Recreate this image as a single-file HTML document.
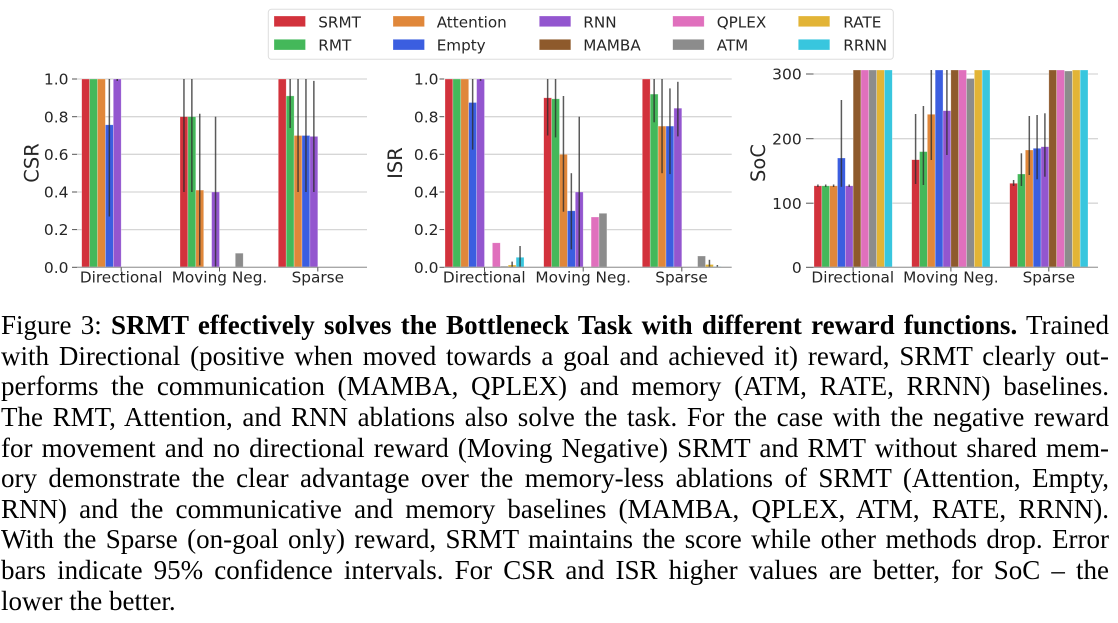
<!DOCTYPE html>
<html>
<head>
<meta charset="utf-8">
<style>
  html, body { margin:0; padding:0; background:#ffffff; }
  body { width:1118px; height:623px; position:relative; overflow:hidden; }
  svg { position:absolute; left:0; top:0; }
  .cap { position:absolute; left:1px; top:310.3px; width:1108px;
         font-family:"Liberation Serif", "Times New Roman", serif; font-size:27px;
         line-height:30.6px; color:#000; }
  .cap div { text-align:justify; text-align-last:justify; height:30.6px; white-space:nowrap; }
  .cap div.last { text-align-last:left; }
  b { font-weight:bold; }
</style>
</head>
<body>
<svg width="1118" height="300" viewBox="0 0 1118 300" xmlns="http://www.w3.org/2000/svg" font-family="DejaVu Sans, Liberation Sans, sans-serif">
  <rect x="0" y="0" width="1118" height="300" fill="#ffffff"/>

  <!-- ============ CSR panel ============ -->
  <g stroke="#d6d6d6" stroke-width="1.3">
    <line x1="77" y1="229.6" x2="367" y2="229.6"/>
    <line x1="77" y1="192.0" x2="367" y2="192.0"/>
    <line x1="77" y1="154.3" x2="367" y2="154.3"/>
    <line x1="77" y1="116.7" x2="367" y2="116.7"/>
    <line x1="77" y1="79.0" x2="367" y2="79.0"/>
  </g>
  <g stroke="#ffffff" stroke-opacity="0.45" stroke-width="0.6">
    <rect x="81.7" y="79" width="7.9" height="188.3" fill="#d2323c"/>
    <rect x="89.6" y="79" width="7.9" height="188.3" fill="#44b85a"/>
    <rect x="97.5" y="79" width="7.9" height="188.3" fill="#e0873a"/>
    <rect x="105.4" y="124.8" width="7.9" height="142.5" fill="#3b5ee0"/>
    <rect x="113.3" y="79" width="7.9" height="188.3" fill="#9356cf"/>

    <rect x="180" y="116.7" width="7.9" height="150.6" fill="#d2323c"/>
    <rect x="187.9" y="116.7" width="7.9" height="150.6" fill="#44b85a"/>
    <rect x="195.8" y="190.1" width="7.9" height="77.2" fill="#e0873a"/>
    <rect x="211.6" y="192" width="7.9" height="75.3" fill="#9356cf"/>
    <rect x="235.3" y="253.2" width="7.9" height="14.1" fill="#8c8c8c"/>

    <rect x="278.3" y="79" width="7.9" height="188.3" fill="#d2323c"/>
    <rect x="286.2" y="95.9" width="7.9" height="171.4" fill="#44b85a"/>
    <rect x="294.1" y="135.5" width="7.9" height="131.8" fill="#e0873a"/>
    <rect x="302" y="135.5" width="7.9" height="131.8" fill="#3b5ee0"/>
    <rect x="309.9" y="136.4" width="7.9" height="130.9" fill="#9356cf"/>
  </g>
  <g stroke="rgba(45,45,45,0.78)" stroke-width="1.5">
    <line x1="109.35" y1="79" x2="109.35" y2="216.5"/>
    <line x1="117.25" y1="79" x2="117.25" y2="81"/>
    <line x1="183.95" y1="79" x2="183.95" y2="192"/>
    <line x1="191.85" y1="79" x2="191.85" y2="192"/>
    <line x1="199.75" y1="113.8" x2="199.75" y2="265.4"/>
    <line x1="215.55" y1="116.7" x2="215.55" y2="267.3"/>
    <line x1="290.15" y1="79" x2="290.15" y2="128"/>
    <line x1="298.05" y1="79" x2="298.05" y2="192"/>
    <line x1="305.95" y1="79" x2="305.95" y2="192"/>
    <line x1="313.85" y1="80.9" x2="313.85" y2="192"/>
  </g>
  <line x1="77" y1="267.3" x2="367" y2="267.3" stroke="#a8a8a8" stroke-width="1.3"/>
  <g stroke="#555" stroke-width="1">
    <line x1="72" y1="79" x2="77" y2="79"/>
    <line x1="72" y1="116.7" x2="77" y2="116.7"/>
    <line x1="72" y1="154.3" x2="77" y2="154.3"/>
    <line x1="72" y1="192" x2="77" y2="192"/>
    <line x1="72" y1="229.6" x2="77" y2="229.6"/>
    <line x1="72" y1="267.3" x2="77" y2="267.3"/>
    <line x1="121.2" y1="267.3" x2="121.2" y2="271.5"/>
    <line x1="219.5" y1="267.3" x2="219.5" y2="271.5"/>
    <line x1="317.8" y1="267.3" x2="317.8" y2="271.5"/>
  </g>
  <g fill="#262626" font-size="15.5" text-anchor="end">
    <text x="68.5" y="84.6">1.0</text>
    <text x="68.5" y="122.3">0.8</text>
    <text x="68.5" y="159.9">0.6</text>
    <text x="68.5" y="197.6">0.4</text>
    <text x="68.5" y="235.2">0.2</text>
    <text x="68.5" y="272.9">0.0</text>
  </g>
  <g fill="#262626" font-size="15.3" text-anchor="middle">
    <text x="121.2" y="282.5">Directional</text>
    <text x="219.5" y="282.5">Moving Neg.</text>
    <text x="317.8" y="282.5">Sparse</text>
  </g>
  <text transform="translate(31.7,163) rotate(-90)" y="6.9" text-anchor="middle" font-size="19.5" fill="#262626">CSR</text>

  <!-- ============ ISR panel ============ -->
  <g stroke="#d6d6d6" stroke-width="1.3">
    <line x1="444" y1="229.6" x2="731.7" y2="229.6"/>
    <line x1="444" y1="192.0" x2="731.7" y2="192.0"/>
    <line x1="444" y1="154.3" x2="731.7" y2="154.3"/>
    <line x1="444" y1="116.7" x2="731.7" y2="116.7"/>
    <line x1="444" y1="79.0" x2="731.7" y2="79.0"/>
  </g>
  <g stroke="#ffffff" stroke-opacity="0.45" stroke-width="0.6">
    <rect x="445" y="79" width="7.9" height="188.3" fill="#d2323c"/>
    <rect x="452.9" y="79" width="7.9" height="188.3" fill="#44b85a"/>
    <rect x="460.8" y="79" width="7.9" height="188.3" fill="#e0873a"/>
    <rect x="468.7" y="102.5" width="7.9" height="164.8" fill="#3b5ee0"/>
    <rect x="476.6" y="79" width="7.9" height="188.3" fill="#9356cf"/>
    <rect x="492.4" y="242.8" width="7.9" height="24.5" fill="#e070bd"/>
    <rect x="500.3" y="266.1" width="7.9" height="1.2" fill="#8c8c8c"/>
    <rect x="508.2" y="265" width="7.9" height="2.3" fill="#e2b436"/>
    <rect x="516.1" y="257.3" width="7.9" height="10" fill="#38c6de"/>

    <rect x="543.7" y="97.8" width="7.9" height="169.5" fill="#d2323c"/>
    <rect x="551.6" y="98.8" width="7.9" height="168.5" fill="#44b85a"/>
    <rect x="559.5" y="154.3" width="7.9" height="113" fill="#e0873a"/>
    <rect x="567.4" y="210.8" width="7.9" height="56.5" fill="#3b5ee0"/>
    <rect x="575.3" y="192" width="7.9" height="75.3" fill="#9356cf"/>
    <rect x="591.1" y="217" width="7.9" height="50.3" fill="#e070bd"/>
    <rect x="599" y="213.3" width="7.9" height="54" fill="#8c8c8c"/>

    <rect x="642.3" y="79" width="7.9" height="188.3" fill="#d2323c"/>
    <rect x="650.2" y="94.1" width="7.9" height="173.2" fill="#44b85a"/>
    <rect x="658.1" y="126.1" width="7.9" height="141.2" fill="#e0873a"/>
    <rect x="666" y="126.1" width="7.9" height="141.2" fill="#3b5ee0"/>
    <rect x="673.9" y="108.2" width="7.9" height="159.1" fill="#9356cf"/>
    <rect x="697.6" y="256" width="7.9" height="11.3" fill="#8c8c8c"/>
    <rect x="705.5" y="264.5" width="7.9" height="2.8" fill="#e2b436"/>
    <rect x="713.4" y="266.5" width="7.9" height="0.8" fill="#38c6de"/>
  </g>
  <g stroke="rgba(45,45,45,0.78)" stroke-width="1.5">
    <line x1="472.65" y1="79" x2="472.65" y2="149.6"/>
    <line x1="480.55" y1="79" x2="480.55" y2="80.9"/>
    <line x1="512.15" y1="261.6" x2="512.15" y2="267.3"/>
    <line x1="520.05" y1="246" x2="520.05" y2="267.3"/>
    <line x1="547.65" y1="79" x2="547.65" y2="135.5"/>
    <line x1="555.55" y1="79" x2="555.55" y2="137.4"/>
    <line x1="563.45" y1="96" x2="563.45" y2="211.7"/>
    <line x1="571.35" y1="173.2" x2="571.35" y2="249.4"/>
    <line x1="579.25" y1="116.7" x2="579.25" y2="267.3"/>
    <line x1="654.15" y1="79" x2="654.15" y2="122.3"/>
    <line x1="662.05" y1="79" x2="662.05" y2="173.2"/>
    <line x1="669.95" y1="88.4" x2="669.95" y2="174.1"/>
    <line x1="677.85" y1="81.8" x2="677.85" y2="136.4"/>
    <line x1="709.45" y1="259.8" x2="709.45" y2="267.3"/>
    <line x1="717.35" y1="265" x2="717.35" y2="267.3"/>
  </g>
  <line x1="444" y1="267.3" x2="731.7" y2="267.3" stroke="#a8a8a8" stroke-width="1.3"/>
  <g stroke="#555" stroke-width="1">
    <line x1="439.5" y1="79" x2="444" y2="79"/>
    <line x1="439.5" y1="116.7" x2="444" y2="116.7"/>
    <line x1="439.5" y1="154.3" x2="444" y2="154.3"/>
    <line x1="439.5" y1="192" x2="444" y2="192"/>
    <line x1="439.5" y1="229.6" x2="444" y2="229.6"/>
    <line x1="439.5" y1="267.3" x2="444" y2="267.3"/>
    <line x1="484.5" y1="267.3" x2="484.5" y2="271.5"/>
    <line x1="583.2" y1="267.3" x2="583.2" y2="271.5"/>
    <line x1="681.8" y1="267.3" x2="681.8" y2="271.5"/>
  </g>
  <g fill="#262626" font-size="15.5" text-anchor="end">
    <text x="438.5" y="84.6">1.0</text>
    <text x="438.5" y="122.3">0.8</text>
    <text x="438.5" y="159.9">0.6</text>
    <text x="438.5" y="197.6">0.4</text>
    <text x="438.5" y="235.2">0.2</text>
    <text x="438.5" y="272.9">0.0</text>
  </g>
  <g fill="#262626" font-size="15.3" text-anchor="middle">
    <text x="484.3" y="282.5">Directional</text>
    <text x="583.2" y="282.5">Moving Neg.</text>
    <text x="681.5" y="282.5">Sparse</text>
  </g>
  <text transform="translate(395,163) rotate(-90)" y="6.9" text-anchor="middle" font-size="19.5" fill="#262626">ISR</text>

  <!-- ============ SoC panel ============ -->
  <g stroke="#d6d6d6" stroke-width="1.3">
    <line x1="813.5" y1="74" x2="1098" y2="74"/>
    <line x1="813.5" y1="138.7" x2="1098" y2="138.7"/>
    <line x1="813.5" y1="203.2" x2="1098" y2="203.2"/>
  </g>
  <g stroke="#ffffff" stroke-opacity="0.45" stroke-width="0.6">
    <rect x="814" y="185.8" width="7.83" height="81.5" fill="#d2323c"/>
    <rect x="821.83" y="185.8" width="7.83" height="81.5" fill="#44b85a"/>
    <rect x="829.66" y="185.8" width="7.83" height="81.5" fill="#e0873a"/>
    <rect x="837.49" y="158" width="7.83" height="109.3" fill="#3b5ee0"/>
    <rect x="845.32" y="185.8" width="7.83" height="81.5" fill="#9356cf"/>
    <rect x="853.15" y="70" width="7.83" height="197.3" fill="#8e5a2c"/>
    <rect x="860.98" y="70" width="7.83" height="197.3" fill="#e070bd"/>
    <rect x="868.81" y="70" width="7.83" height="197.3" fill="#8c8c8c"/>
    <rect x="876.64" y="70" width="7.83" height="197.3" fill="#e2b436"/>
    <rect x="884.47" y="70" width="7.83" height="197.3" fill="#38c6de"/>

    <rect x="911.7" y="159.7" width="7.83" height="107.6" fill="#d2323c"/>
    <rect x="919.53" y="151.6" width="7.83" height="115.7" fill="#44b85a"/>
    <rect x="927.36" y="114.3" width="7.83" height="153" fill="#e0873a"/>
    <rect x="935.19" y="70" width="7.83" height="197.3" fill="#3b5ee0"/>
    <rect x="943.02" y="110.7" width="7.83" height="156.6" fill="#9356cf"/>
    <rect x="950.85" y="70" width="7.83" height="197.3" fill="#8e5a2c"/>
    <rect x="958.68" y="70" width="7.83" height="197.3" fill="#e070bd"/>
    <rect x="966.51" y="78.5" width="7.83" height="188.8" fill="#8c8c8c"/>
    <rect x="974.34" y="70" width="7.83" height="197.3" fill="#e2b436"/>
    <rect x="982.17" y="70" width="7.83" height="197.3" fill="#38c6de"/>

    <rect x="1009.7" y="183.3" width="7.83" height="84" fill="#d2323c"/>
    <rect x="1017.53" y="174" width="7.83" height="93.3" fill="#44b85a"/>
    <rect x="1025.36" y="150" width="7.83" height="117.3" fill="#e0873a"/>
    <rect x="1033.19" y="148.3" width="7.83" height="119" fill="#3b5ee0"/>
    <rect x="1041.02" y="146.7" width="7.83" height="120.6" fill="#9356cf"/>
    <rect x="1048.85" y="70" width="7.83" height="197.3" fill="#8e5a2c"/>
    <rect x="1056.68" y="70" width="7.83" height="197.3" fill="#e070bd"/>
    <rect x="1064.51" y="71" width="7.83" height="196.3" fill="#8c8c8c"/>
    <rect x="1072.34" y="70" width="7.83" height="197.3" fill="#e2b436"/>
    <rect x="1080.17" y="70" width="7.83" height="197.3" fill="#38c6de"/>
  </g>
  <g stroke="rgba(45,45,45,0.78)" stroke-width="1.5">
    <line x1="841.4" y1="100" x2="841.4" y2="186.8"/>
    <line x1="817.9" y1="184.5" x2="817.9" y2="187"/>
    <line x1="825.7" y1="184.5" x2="825.7" y2="187"/>
    <line x1="833.6" y1="184.5" x2="833.6" y2="187"/>
    <line x1="849.2" y1="184.5" x2="849.2" y2="187"/>
    <line x1="915.6" y1="114" x2="915.6" y2="184"/>
    <line x1="923.4" y1="106" x2="923.4" y2="185"/>
    <line x1="931.3" y1="70" x2="931.3" y2="160"/>
    <line x1="946.9" y1="70" x2="946.9" y2="155"/>
    <line x1="1013.6" y1="180" x2="1013.6" y2="186"/>
    <line x1="1021.4" y1="153.3" x2="1021.4" y2="186"/>
    <line x1="1029.3" y1="116" x2="1029.3" y2="175"/>
    <line x1="1037.1" y1="115" x2="1037.1" y2="179.3"/>
    <line x1="1044.9" y1="113.3" x2="1044.9" y2="176.7"/>
  </g>
  <line x1="813.5" y1="267.3" x2="1098" y2="267.3" stroke="#a8a8a8" stroke-width="1.3"/>
  <g stroke="#555" stroke-width="1">
    <line x1="806" y1="74" x2="813.5" y2="74"/>
    <line x1="806" y1="138.7" x2="813.5" y2="138.7"/>
    <line x1="806" y1="203.2" x2="813.5" y2="203.2"/>
    <line x1="806" y1="267.3" x2="813.5" y2="267.3"/>
    <line x1="853.1" y1="267.3" x2="853.1" y2="271.5"/>
    <line x1="950.9" y1="267.3" x2="950.9" y2="271.5"/>
    <line x1="1048.8" y1="267.3" x2="1048.8" y2="271.5"/>
  </g>
  <g fill="#262626" font-size="15.5" text-anchor="end">
    <text x="801.7" y="79.6">300</text>
    <text x="801.7" y="144.3">200</text>
    <text x="801.7" y="208.8">100</text>
    <text x="801.7" y="272.9">0</text>
  </g>
  <g fill="#262626" font-size="15.3" text-anchor="middle">
    <text x="852.8" y="282.5">Directional</text>
    <text x="950.9" y="282.5">Moving Neg.</text>
    <text x="1048.8" y="282.5">Sparse</text>
  </g>
  <text transform="translate(758.3,163) rotate(-90)" y="6.9" text-anchor="middle" font-size="19.5" fill="#262626">SoC</text>

  <!-- ============ Legend ============ -->
  <rect x="268.3" y="9.3" width="625" height="50" rx="3" ry="3" fill="#ffffff" fill-opacity="0.9" stroke="#dddddd" stroke-width="1"/>
  <g stroke="#ffffff" stroke-opacity="0.45" stroke-width="0.6">
    <rect x="274" y="16" width="31.5" height="10.7" fill="#d2323c"/>
    <rect x="274" y="39.3" width="31.5" height="10.7" fill="#44b85a"/>
    <rect x="393" y="16" width="31.5" height="10.7" fill="#e0873a"/>
    <rect x="393" y="39.3" width="31.5" height="10.7" fill="#3b5ee0"/>
    <rect x="539.3" y="16" width="31.5" height="10.7" fill="#9356cf"/>
    <rect x="539.3" y="39.3" width="31.5" height="10.7" fill="#8e5a2c"/>
    <rect x="672.7" y="16" width="31.5" height="10.7" fill="#e070bd"/>
    <rect x="672.7" y="39.3" width="31.5" height="10.7" fill="#8c8c8c"/>
    <rect x="798.3" y="16" width="31.5" height="10.7" fill="#e2b436"/>
    <rect x="798.3" y="39.3" width="31.5" height="10.7" fill="#38c6de"/>
  </g>
  <g fill="#262626" font-size="15.2">
    <text x="318.3" y="27.3">SRMT</text>
    <text x="318.3" y="50.6">RMT</text>
    <text x="436.7" y="27.3">Attention</text>
    <text x="436.7" y="50.6">Empty</text>
    <text x="583.3" y="27.3">RNN</text>
    <text x="583.3" y="50.6">MAMBA</text>
    <text x="716.7" y="27.3">QPLEX</text>
    <text x="716.7" y="50.6">ATM</text>
    <text x="843.3" y="27.3">RATE</text>
    <text x="843.3" y="50.6">RRNN</text>
  </g>
</svg>

<div class="cap">
  <div>Figure 3: <b>SRMT effectively solves the Bottleneck Task with different reward functions.</b> Trained</div>
  <div>with Directional (positive when moved towards a goal and achieved it) reward, SRMT clearly out-</div>
  <div>performs the communication (MAMBA, QPLEX) and memory (ATM, RATE, RRNN) baselines.</div>
  <div>The RMT, Attention, and RNN ablations also solve the task. For the case with the negative reward</div>
  <div>for movement and no directional reward (Moving Negative) SRMT and RMT without shared mem-</div>
  <div>ory demonstrate the clear advantage over the memory-less ablations of SRMT (Attention, Empty,</div>
  <div>RNN) and the communicative and memory baselines (MAMBA, QPLEX, ATM, RATE, RRNN).</div>
  <div>With the Sparse (on-goal only) reward, SRMT maintains the score while other methods drop. Error</div>
  <div>bars indicate 95% confidence intervals. For CSR and ISR higher values are better, for SoC – the</div>
  <div class="last">lower the better.</div>
</div>
</body>
</html>
